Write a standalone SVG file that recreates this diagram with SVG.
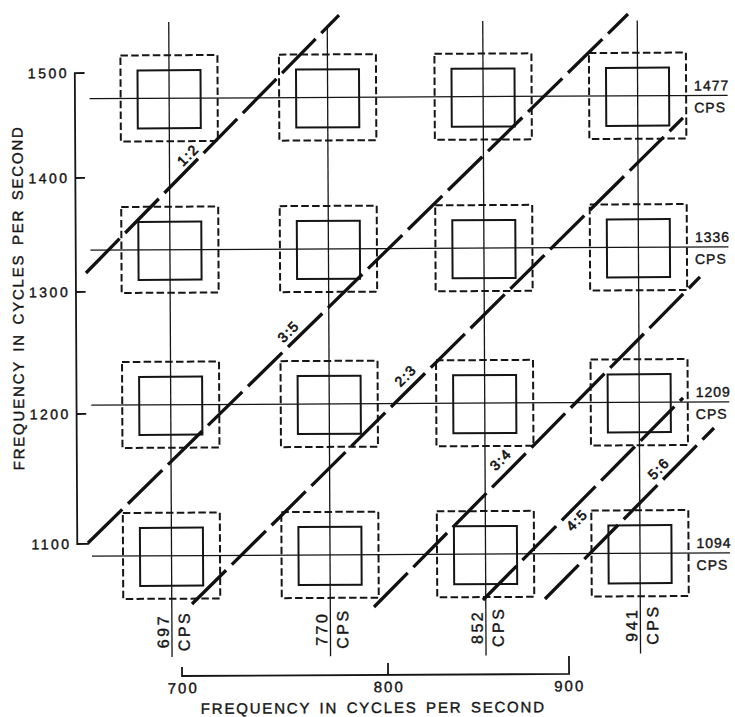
<svg xmlns="http://www.w3.org/2000/svg" width="735" height="717" viewBox="0 0 735 717">
<style>
.grid{stroke:#151515;stroke-width:1.3;fill:none}
.outer{fill:none;stroke:#151515;stroke-width:2;stroke-dasharray:7.5 3.3}
.inner{fill:none;stroke:#151515;stroke-width:2}
.ratio{stroke:#111;stroke-width:3.3;stroke-dasharray:48 8;fill:none;stroke-linecap:butt}
.axis{stroke:#151515;stroke-width:1.8;fill:none}
text{font-family:"Liberation Sans",Arial,sans-serif;fill:#151515;stroke:#151515;stroke-width:0.4}
.tick{font-size:14px;letter-spacing:2.5px;text-anchor:end}
.bnum{font-size:15px;letter-spacing:2px;text-anchor:middle}
.title{font-size:15px;letter-spacing:1.8px;word-spacing:2.6px;text-anchor:middle}
.rlab{font-size:14px;letter-spacing:1px}
.vlab{font-size:16px;letter-spacing:2.5px;text-anchor:middle}
.ratlab{font-size:14px;letter-spacing:1.5px;text-anchor:middle;stroke-width:0.7}
</style>
<rect width="735" height="717" fill="#fff"/>
<g transform="rotate(-0.3 367 358)">
<g id="axes">
  <path class="axis" d="M86 71.5H76.3V542.5H88 M76.3 176.5H86 M76.3 290.5H86 M76.3 412.5H86"/>
  <text class="tick" x="70.5" y="76.5">1500</text>
  <text class="tick" x="70.5" y="181.5">1400</text>
  <text class="tick" x="70.5" y="295.5">1300</text>
  <text class="tick" x="70.5" y="417.5">1200</text>
  <text class="tick" x="70.5" y="547.5">1100</text>
  <text class="title" transform="translate(23.7 296) rotate(-90)">FREQUENCY IN CYCLES PER SECOND</text>
  <path class="axis" d="M180.4 666V675H567.4V657 M386.4 663V675"/>
  <text class="bnum" x="181.5" y="692.4">700</text>
  <text class="bnum" x="387.5" y="692.4">800</text>
  <text class="bnum" x="568" y="692.4">900</text>
  <text class="title" x="371.5" y="713">FREQUENCY IN CYCLES PER SECOND</text>
</g>
<g id="grid-lines">
  <line class="grid" x1="170.5" y1="21" x2="170.5" y2="656"/>
  <line class="grid" x1="329" y1="27.5" x2="329" y2="656"/>
  <line class="grid" x1="484.5" y1="21.5" x2="484.5" y2="656"/>
  <line class="grid" x1="639" y1="22" x2="639" y2="655"/>
  <line class="grid" x1="91" y1="97.2" x2="729" y2="97.2"/>
  <line class="grid" x1="91" y1="248.7" x2="729" y2="248.7"/>
  <line class="grid" x1="91" y1="403.7" x2="729" y2="403.7"/>
  <line class="grid" x1="91" y1="554.7" x2="729" y2="554.7"/>
</g>
<g id="freq-labels">
  <text class="rlab" x="695.5" y="92.2">1477</text>
  <text class="rlab" x="695.5" y="114.2">CPS</text>
  <text class="rlab" x="695.5" y="243.7">1336</text>
  <text class="rlab" x="695.5" y="265.7">CPS</text>
  <text class="rlab" x="695.5" y="398.7">1209</text>
  <text class="rlab" x="695.5" y="420.7">CPS</text>
  <text class="rlab" x="695.5" y="549.7">1094</text>
  <text class="rlab" x="695.5" y="571.7">CPS</text>
  <text class="vlab" transform="translate(167.3 630) rotate(-90)">697</text>
  <text class="vlab" transform="translate(188.3 630) rotate(-90)">CPS</text>
  <text class="vlab" transform="translate(325.8 628.5) rotate(-90)">770</text>
  <text class="vlab" transform="translate(346.8 628.5) rotate(-90)">CPS</text>
  <text class="vlab" transform="translate(481.3 627.5) rotate(-90)">852</text>
  <text class="vlab" transform="translate(502.3 627.5) rotate(-90)">CPS</text>
  <text class="vlab" transform="translate(635.8 626) rotate(-90)">941</text>
  <text class="vlab" transform="translate(656.8 626) rotate(-90)">CPS</text>
</g>
<g id="cell-697-1477"><rect class="outer" x="122" y="54.2" width="97" height="86"/><rect class="inner" x="139" y="69.2" width="63" height="58"/></g>
<g id="cell-770-1477"><rect class="outer" x="280.5" y="54.2" width="97" height="86"/><rect class="inner" x="297.5" y="69.2" width="63" height="58"/></g>
<g id="cell-852-1477"><rect class="outer" x="436" y="54.2" width="97" height="86"/><rect class="inner" x="453" y="69.2" width="63" height="58"/></g>
<g id="cell-941-1477"><rect class="outer" x="590.5" y="54.2" width="97" height="86"/><rect class="inner" x="607.5" y="69.2" width="63" height="58"/></g>
<g id="cell-697-1336"><rect class="outer" x="122" y="205.7" width="97" height="86"/><rect class="inner" x="139" y="220.7" width="63" height="58"/></g>
<g id="cell-770-1336"><rect class="outer" x="280.5" y="205.7" width="97" height="86"/><rect class="inner" x="297.5" y="220.7" width="63" height="58"/></g>
<g id="cell-852-1336"><rect class="outer" x="436" y="205.7" width="97" height="86"/><rect class="inner" x="453" y="220.7" width="63" height="58"/></g>
<g id="cell-941-1336"><rect class="outer" x="590.5" y="205.7" width="97" height="86"/><rect class="inner" x="607.5" y="220.7" width="63" height="58"/></g>
<g id="cell-697-1209"><rect class="outer" x="122" y="360.7" width="97" height="86"/><rect class="inner" x="139" y="375.7" width="63" height="58"/></g>
<g id="cell-770-1209"><rect class="outer" x="280.5" y="360.7" width="97" height="86"/><rect class="inner" x="297.5" y="375.7" width="63" height="58"/></g>
<g id="cell-852-1209"><rect class="outer" x="436" y="360.7" width="97" height="86"/><rect class="inner" x="453" y="375.7" width="63" height="58"/></g>
<g id="cell-941-1209"><rect class="outer" x="590.5" y="360.7" width="97" height="86"/><rect class="inner" x="607.5" y="375.7" width="63" height="58"/></g>
<g id="cell-697-1094"><rect class="outer" x="122" y="511.7" width="97" height="86"/><rect class="inner" x="139" y="526.7" width="63" height="58"/></g>
<g id="cell-770-1094"><rect class="outer" x="280.5" y="511.7" width="97" height="86"/><rect class="inner" x="297.5" y="526.7" width="63" height="58"/></g>
<g id="cell-852-1094"><rect class="outer" x="436" y="511.7" width="97" height="86"/><rect class="inner" x="453" y="526.7" width="63" height="58"/></g>
<g id="cell-941-1094"><rect class="outer" x="590.5" y="511.7" width="97" height="86"/><rect class="inner" x="607.5" y="526.7" width="63" height="58"/></g>
<g id="ratio-lines">
  <line class="ratio" x1="86.4" y1="271.5" x2="340.8" y2="14.9"/>
  <line class="ratio" x1="87" y1="541.5" x2="629.8" y2="15.4"/>
  <line class="ratio" x1="190.7" y1="603.1" x2="684.2" y2="119.6"/>
  <line class="ratio" x1="372.7" y1="607" x2="700.4" y2="278.7"/>
  <line class="ratio" x1="481.7" y1="600.6" x2="682.8" y2="399.6"/>
  <line class="ratio" x1="543.7" y1="599.9" x2="713.6" y2="429.8"/>
  <text class="ratlab" transform="translate(189 154) rotate(-45)" y="5">1:2</text>
  <text class="ratlab" transform="translate(288.5 331) rotate(-45)" y="5">3:5</text>
  <text class="ratlab" transform="translate(405.4 375.7) rotate(-45)" y="5">2:3</text>
  <text class="ratlab" transform="translate(500 460.2) rotate(-45)" y="5">3:4</text>
  <text class="ratlab" transform="translate(576 521) rotate(-45)" y="5">4:5</text>
  <text class="ratlab" transform="translate(658 470) rotate(-45)" y="5">5:6</text>
</g>
</g>
</svg>
